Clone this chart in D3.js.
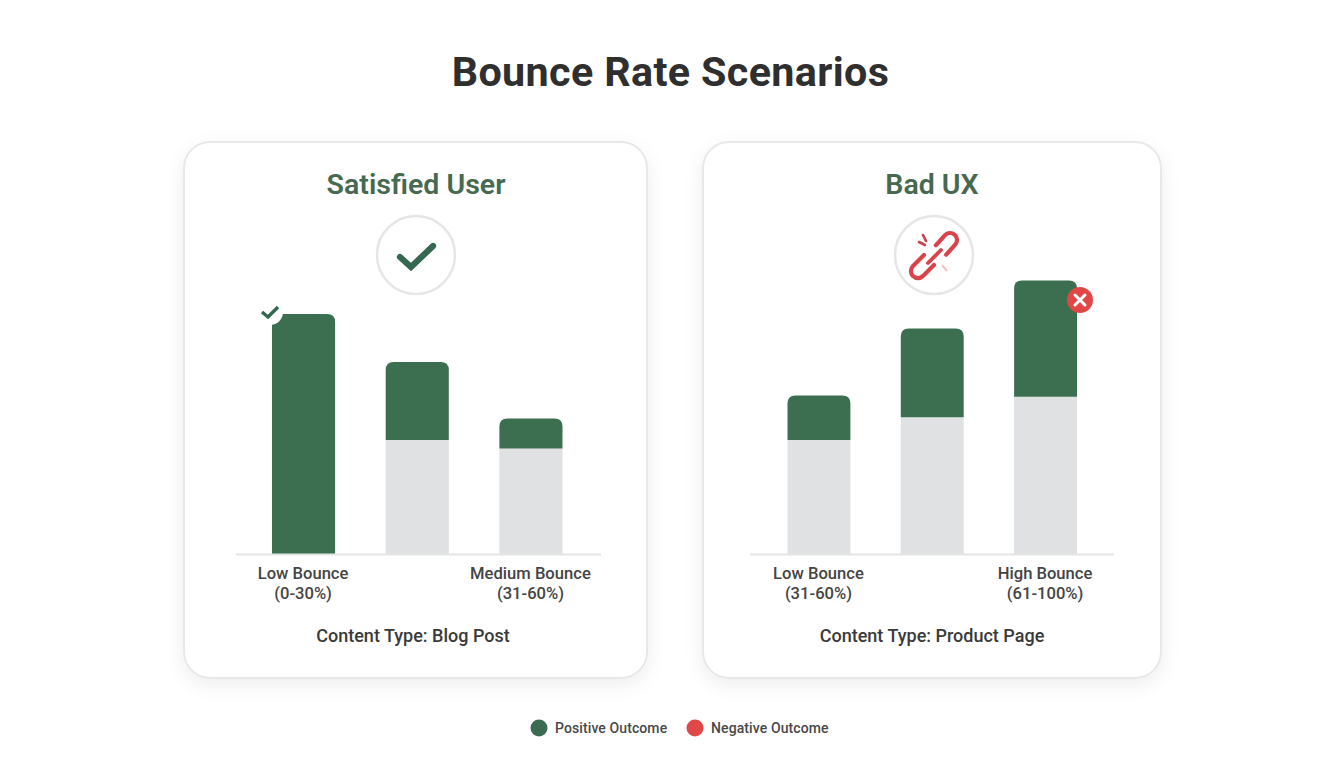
<!DOCTYPE html>
<html><head><meta charset="utf-8">
<script src="https://cdn.jsdelivr.net/npm/d3@7"></script>
<style>html,body{margin:0;padding:0;background:#fff;overflow:hidden}svg{display:block}text{font-family:Roboto,sans-serif}</style>
</head><body><svg id="c" width="1344" height="768"></svg>
<script>
const chartTitle = "Bounce Rate Scenarios";
const panelTitles = ["Satisfied User", "Bad UX"];
const contentTypes = ["Content Type: Blog Post", "Content Type: Product Page"];
const leftCategories = ["Low Bounce|(0-30%)", "Mid", "Medium Bounce|(31-60%)"];
const rightCategories = ["Low Bounce|(31-60%)", "Mid", "High Bounce|(61-100%)"];
const leftNeutral = [0, 47.5, 44];
const leftPositive = [100, 32.5, 12.5];
const rightNeutral = [47.5, 57, 65.5];
const rightPositive = [18.5, 37, 48.5];
const legendLabels = ["Positive Outcome", "Negative Outcome"];

const GREEN="#3c6e50", GREY="#dfe1e2", RED="#e04848", INK="#3a3a3a";
const svg=d3.select("#c");
const defs=svg.append("defs");
const f=defs.append("filter").attr("id","sh").attr("x","-10%").attr("y","-10%").attr("width","120%").attr("height","125%");
f.append("feDropShadow").attr("dx",0).attr("dy",6).attr("stdDeviation",9).attr("flood-color","#000").attr("flood-opacity",0.07);

svg.append("text").attr("x",670.5).attr("y",86).attr("text-anchor","middle")
  .attr("font-size",41.3).attr("font-weight",700).attr("fill","#2f2f2f").attr("letter-spacing",0.35).text(chartTitle);

const y=d3.scaleLinear().domain([0,100]).range([554,314]);
const topRound=(x,y0,w,h,r)=>`M${x},${y0+h}V${y0+r}Q${x},${y0} ${x+r},${y0}H${x+w-r}Q${x+w},${y0} ${x+w},${y0+r}V${y0+h}Z`;

const panels=[
 {card:[184,142,463,536],cx:416,cy:255,ccx:416,cats:leftCategories,n:leftNeutral,p:leftPositive,range:[272,562.5],axis:[236,601],ct:413,t:panelTitles[0],c:contentTypes[0]},
 {card:[703,142,458,536],cx:934,cy:255,ccx:932,cats:rightCategories,n:rightNeutral,p:rightPositive,range:[787.5,1077],axis:[750,1114],ct:932,t:panelTitles[1],c:contentTypes[1]}
];
panels.forEach(P=>{
  const g=svg.append("g");
  g.append("rect").attr("x",P.card[0]).attr("y",P.card[1]).attr("width",P.card[2]).attr("height",P.card[3])
    .attr("rx",26).attr("fill","#fff").attr("stroke","#e6e8e9").attr("stroke-width",2).attr("filter","url(#sh)");
  g.append("text").attr("x",P.ccx).attr("y",194).attr("text-anchor","middle").attr("font-size",28.5).attr("font-weight",600)
    .attr("fill","#47694f").text(P.t);
  g.append("circle").attr("cx",P.cx).attr("cy",P.cy).attr("r",39).attr("fill","#fff").attr("stroke","#e5e7e7").attr("stroke-width",2.5);

  const x=d3.scaleBand().domain(P.cats).range(P.range).paddingInner(0.445).paddingOuter(0);
  P.cats.forEach((c,i)=>{
    const y0=y(P.n[i]), y1=y(P.n[i]+P.p[i]);
    if(P.n[i]>0) g.append("rect").attr("x",x(c)).attr("y",y0).attr("width",x.bandwidth()).attr("height",y(0)-y0).attr("fill",GREY);
    g.append("path").attr("d",topRound(x(c),y1,x.bandwidth(),y0-y1,8)).attr("fill",GREEN);
  });
  const ax=d3.axisBottom(x).tickSize(0).tickPadding(0).tickFormat("");
  const axG=g.append("g").attr("transform","translate(0,554)").call(ax);
  axG.select(".domain").attr("d",`M${P.axis[0]},0.5H${P.axis[1]}`).attr("stroke","#e3e5e5").attr("stroke-width",2);
  axG.selectAll(".tick").each(function(d){
    if(d==="Mid")return;
    const lines=d.split("|");
    const t=d3.select(this).select("text").attr("y",0).attr("dy",0).attr("text-anchor","middle")
      .attr("font-size",16.6).attr("font-weight",500).attr("fill","#444").attr("font-family","Roboto,sans-serif");
    lines.forEach((l,k)=>t.append("tspan").attr("x",-0.5).attr("y",25+k*20).text(l));
  });
  g.append("text").attr("x",P.ct).attr("y",642).attr("text-anchor","middle").attr("font-size",18).attr("font-weight",500)
    .attr("fill",INK).text(P.c);
});

// big check
svg.append("path").attr("d","M400,257L411,267L433,246").attr("fill","none").attr("stroke","#356850").attr("stroke-width",6.2).attr("stroke-linecap","round");
// small check with notch
svg.append("circle").attr("cx",270).attr("cy",312).attr("r",13).attr("fill","#fff");
svg.append("path").attr("d","M262,312L268,317L278,307").attr("fill","none").attr("stroke","#356850").attr("stroke-width",3.4);

// broken link
const link=svg.append("g").attr("fill","none").attr("stroke","#d9434a").attr("stroke-width",4.2).attr("stroke-linecap","round");
link.append("path").attr("d","M935.8,245.3L944.8,235.3A7,7 0 0 1 955.2,244.7L946.2,254.7");
link.append("path").attr("d","M924,255L913,266A7,7 0 0 0 923,276L934,265");
link.append("path").attr("d","M928,263L941,250").attr("stroke-width",3.8);
const sp=svg.append("g").attr("stroke","#c8404a").attr("stroke-width",2.6).attr("stroke-linecap","round");
sp.append("line").attr("x1",923).attr("y1",235).attr("x2",926).attr("y2",241);
sp.append("line").attr("x1",919).attr("y1",242).attr("x2",925).attr("y2",245);
svg.append("line").attr("x1",942).attr("y1",265).attr("x2",947).attr("y2",271).attr("stroke","#efc4c4").attr("stroke-width",2);

// x badge
svg.append("circle").attr("cx",1080).attr("cy",300).attr("r",13).attr("fill",RED);
svg.append("path").attr("d","M1075,295L1085,305M1085,295L1075,305").attr("stroke","#fff").attr("stroke-width",3).attr("stroke-linecap","round");

// legend
const legendX=[539,695], legendC=["#3c6b52",RED];
legendLabels.forEach((l,i)=>{
  svg.append("circle").attr("cx",legendX[i]).attr("cy",728).attr("r",8.5).attr("fill",legendC[i]);
  svg.append("text").attr("x",legendX[i]+16).attr("y",733).attr("font-size",14).attr("font-weight",500).attr("letter-spacing",0.1).attr("fill","#484848").text(l);
});
</script></body></html>
